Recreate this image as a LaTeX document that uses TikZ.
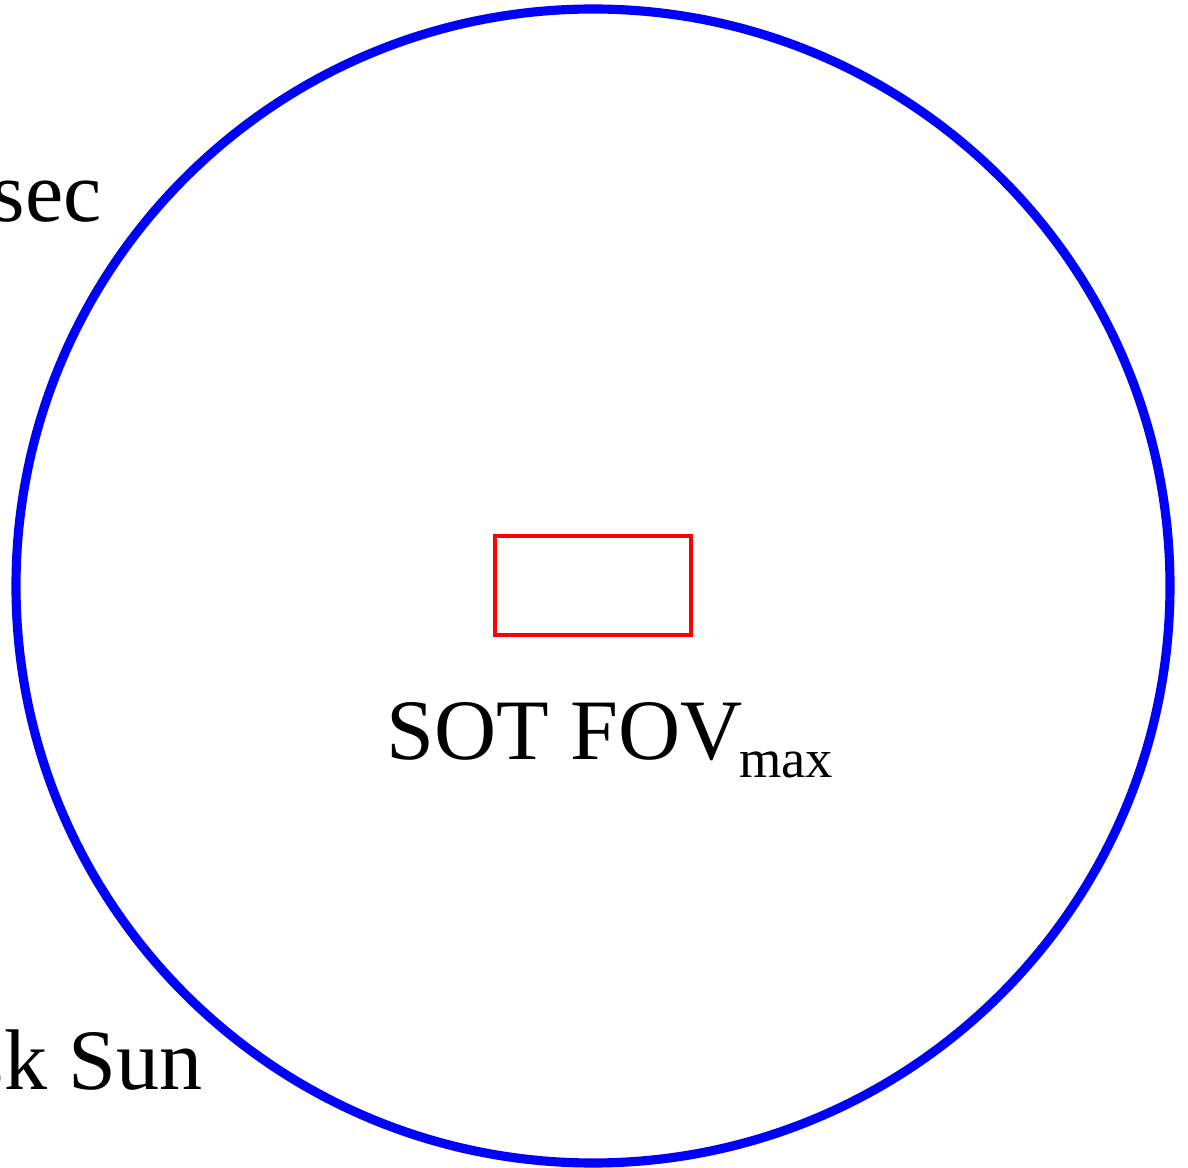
\documentclass[tikz,border=0pt]{standalone}
\usepackage{fontspec}
\setmainfont{Liberation Serif}
\usepackage{xcolor}
\usetikzlibrary{positioning}

\begin{document}
\begin{tikzpicture}[x=0.02cm, y=-0.02cm]
    % 0. Khung ảnh
    \useasboundingbox (0,0) rectangle (1188,1168);
    \tikzset{
        lbl/.style={inner sep=0pt, font=\fontsize{49}{59}\selectfont},
        sun/.style={draw=blue, line width=5.2pt},
        fov/.style={draw=red, line width=2.8pt}
    }

    % 1. Đĩa Mặt Trời màu xanh
    \draw[sun] (593,586) circle (577);

    % 2. Khung FOV màu đỏ
    \draw[fov] (495,536) rectangle (691,635);

    % 3. Các nhãn
    \node[lbl, anchor=base west] (fovtxt) at (386,760)
        {SOT FOV\kern-2pt\raisebox{-10pt}{\fontsize{31}{37}\selectfont max}};
    \node[lbl, anchor=base east] (sectxt) at (102,222) {sec};
    \node[lbl, anchor=base east] (suntxt) at (203,1090) {sk Sun};

\end{tikzpicture}
\end{document}
